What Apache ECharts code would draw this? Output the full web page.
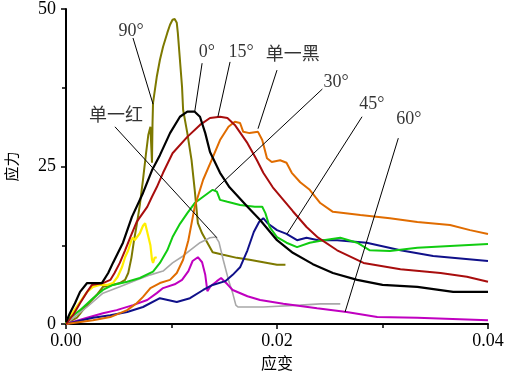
<!DOCTYPE html>
<html>
<head>
<meta charset="utf-8">
<script src="https://cdn.jsdelivr.net/npm/echarts@6/dist/echarts.min.js"></script>
<style>
  html, body { margin: 0; padding: 0; background: #fff; }
  #chart { width: 505px; height: 378px; }
</style>
</head>
<body>
<div id="chart"></div>
<script>
// 各角度试件的应力-应变曲线
const strain0 = [0, 0.00038, 0.00085, 0.00133, 0.0020, 0.0034, 0.0040, 0.00445, 0.0054, 0.00625, 0.0073, 0.00815, 0.0089, 0.00986, 0.0108, 0.0115, 0.0122, 0.0127, 0.0132, 0.01365, 0.0146, 0.0155, 0.0172, 0.0184, 0.0200, 0.0215, 0.0234, 0.0253, 0.0276, 0.0300, 0.0333, 0.0367, 0.0400];
const stress0 = [0.3, 1.75, 3.3, 5.1, 6.5, 6.5, 8.1, 9.7, 12.9, 17.0, 20.8, 24.4, 26.8, 30.3, 32.9, 33.7, 33.7, 32.9, 30.3, 27.3, 24.0, 21.7, 18.6, 16.5, 13.3, 11.3, 9.5, 8.1, 7.0, 6.2, 5.9, 5.1, 5.1];

const strain15 = [0, 0.0001, 0.00066, 0.00133, 0.0020, 0.00246, 0.0035, 0.0042, 0.0046, 0.0051, 0.0056, 0.0061, 0.0067, 0.0077, 0.00815, 0.0086, 0.0092, 0.0101, 0.0115, 0.0127, 0.01365, 0.0146, 0.0153, 0.0160, 0.0172, 0.0181, 0.0187, 0.0196, 0.0206, 0.0215, 0.0228, 0.0239, 0.0257, 0.0282, 0.0317, 0.0355, 0.0380, 0.0400];
const stress15 = [0, 0.3, 1.4, 3.3, 5.1, 6.2, 6.5, 7.0, 8.1, 9.7, 11.7, 13.8, 16.2, 18.6, 20.2, 21.7, 24.0, 27.1, 29.7, 31.6, 32.7, 32.9, 32.7, 31.6, 28.7, 26.0, 24.0, 21.7, 19.7, 17.9, 15.4, 13.7, 11.7, 9.7, 8.7, 8.1, 7.5, 6.7];

// 单一黑
const strainBlack = [0, 0.00256, 0.0042, 0.0058, 0.0067, 0.0073, 0.0080, 0.0089, 0.00986, 0.0105, 0.0111, 0.0116, 0.0122, 0.0130, 0.0138, 0.0146, 0.0154, 0.0160, 0.0165, 0.0168, 0.0174, 0.0182, 0.0186, 0.01905, 0.0195, 0.0203, 0.0209, 0.0214, 0.0222, 0.0231, 0.0241, 0.0253, 0.0279, 0.0307, 0.0333, 0.0364, 0.0383, 0.0400];
const stressBlack = [0, 0.6, 1.1, 2.2, 3.3, 4.3, 5.7, 6.5, 7.0, 8.1, 10.2, 13.3, 18.6, 22.9, 26.0, 29.2, 31.3, 32.1, 31.9, 30.5, 30.3, 30.5, 29.2, 26.3, 25.7, 26.0, 25.6, 24.0, 22.5, 21.3, 19.2, 17.8, 17.3, 16.8, 16.2, 15.7, 14.9, 14.3];

const strain30 = [0, 0.0001, 0.00133, 0.00256, 0.0035, 0.00445, 0.0058, 0.0070, 0.00825, 0.0089, 0.0096, 0.0101, 0.0108, 0.0115, 0.0122, 0.0130, 0.0139, 0.0143, 0.0146, 0.0153, 0.0165, 0.0179, 0.0186, 0.0189, 0.0193, 0.0200, 0.0209, 0.0219, 0.0231, 0.0244, 0.0260, 0.0276, 0.0288, 0.0307, 0.0333, 0.0364, 0.0400];
const stress30 = [0, 0.6, 2.2, 4.1, 5.4, 6.2, 6.7, 7.3, 8.3, 9.7, 11.7, 13.8, 15.9, 17.6, 19.2, 20.2, 21.3, 21.0, 19.7, 19.4, 18.9, 18.6, 18.6, 17.6, 15.4, 13.8, 12.9, 12.2, 12.9, 13.3, 13.7, 12.9, 11.7, 11.6, 12.1, 12.4, 12.7];

const strain45 = [0, 0.00256, 0.0042, 0.0058, 0.0073, 0.0089, 0.0105, 0.01175, 0.0130, 0.0139, 0.0151, 0.0158, 0.0165, 0.0172, 0.0178, 0.0183, 0.0187, 0.0191, 0.0200, 0.0209, 0.0219, 0.0228, 0.0239, 0.0257, 0.0285, 0.0317, 0.0348, 0.0400];
const stress45 = [0, 1.0, 1.4, 1.9, 2.7, 4.1, 3.5, 4.1, 5.4, 6.2, 6.8, 7.8, 9.0, 11.7, 14.6, 16.2, 16.8, 16.0, 14.9, 14.3, 13.3, 13.7, 13.3, 13.3, 12.9, 11.7, 10.8, 10.0];

const strain60 = [0, 0.0020, 0.0035, 0.0048, 0.00635, 0.0077, 0.0086, 0.0092, 0.0103, 0.0110, 0.0116, 0.0120, 0.0125, 0.0129, 0.0132, 0.0134, 0.0137, 0.0143, 0.0147, 0.0153, 0.0158, 0.0172, 0.0184, 0.0206, 0.0238, 0.0266, 0.0295, 0.0333, 0.0400];
const stress60 = [0, 1.0, 1.7, 2.2, 3.0, 3.8, 4.9, 5.7, 6.3, 7.0, 8.4, 10.0, 10.6, 9.8, 7.8, 5.2, 6.0, 6.8, 7.3, 6.3, 5.4, 4.4, 3.8, 3.2, 2.5, 1.9, 1.1, 1.0, 0.6];

// 单一红
const strainRed = [0, 0.0020, 0.0035, 0.0051, 0.0067, 0.0080, 0.0092, 0.0101, 0.0111, 0.01175, 0.0127, 0.01365, 0.0142, 0.0145, 0.0149, 0.0154, 0.0158, 0.0161, 0.0163, 0.0187, 0.0222, 0.0241, 0.0260];
const stressRed = [0, 2.7, 4.9, 5.9, 7.0, 7.8, 8.4, 9.7, 10.8, 11.7, 12.9, 13.7, 13.8, 13.0, 10.2, 7.0, 4.9, 3.0, 2.7, 2.7, 3.0, 3.2, 3.2];

// 黄色短曲线
const strainYellow = [0, 0.0001, 0.00066, 0.00133, 0.0020, 0.00256, 0.0032, 0.0039, 0.00445, 0.0049, 0.0053, 0.0056, 0.0059, 0.0062, 0.00635, 0.0065, 0.0070, 0.0073, 0.0075, 0.0077, 0.0080, 0.00815, 0.00825, 0.0084, 0.0086];
const stressYellow = [0, 0.6, 1.9, 3.5, 5.1, 5.9, 6.2, 6.2, 6.5, 7.5, 9.0, 10.6, 11.7, 13.3, 13.7, 13.3, 14.4, 15.6, 16.0, 14.6, 12.5, 10.2, 9.7, 10.5, 10.6];

const strain90 = [0, 0.0002, 0.00104, 0.0016, 0.0023, 0.0029, 0.0035, 0.00436, 0.0051, 0.0056, 0.0059, 0.0062, 0.00645, 0.0067, 0.0070, 0.0073, 0.0076, 0.0078, 0.0080, 0.0081, 0.00815, 0.0082, 0.00825, 0.0086, 0.0089, 0.0092, 0.0096, 0.00986, 0.0101, 0.0103, 0.0105, 0.0106, 0.0108, 0.0110, 0.0111, 0.0115, 0.0119, 0.0122, 0.0125, 0.0129, 0.0134, 0.0139, 0.0149, 0.0162, 0.0174, 0.0187, 0.0200, 0.0208];
const stress90 = [0, 0.2, 1.0, 2.2, 3.5, 4.6, 5.9, 6.2, 6.5, 7.0, 8.1, 10.5, 13.3, 15.7, 18.9, 22.9, 27.3, 30.0, 31.3, 31.6, 25.6, 31.8, 35.1, 39.2, 41.9, 44.0, 46.2, 47.5, 48.3, 48.4, 47.8, 46.2, 41.9, 37.6, 34.0, 30.3, 26.0, 21.3, 16.0, 14.4, 12.9, 11.4, 11.0, 10.5, 10.2, 9.8, 9.4, 9.4];

// 标注: 文字位置 与 引线(起点 -> 终点)
const labelNames = ['90°', '0°', '15°', '单一黑', '30°', '45°', '60°', '单一红'];
const labelPos = [[0.00616, 46.5], [0.01336, 43.2], [0.0166, 43.2], [0.0215, 42.7], [0.0256, 38.3], [0.0290, 34.9], [0.0325, 32.5], [0.00474, 32.9]];
const leaderFrom = [[0.00635, 45.4], [0.0129, 41.4], [0.01555, 41.6], [0.0200, 40.3], [0.0243, 37.3], [0.02806, 32.9], [0.0315, 29.5], [0.00464, 31.3]];
const leaderTo = [[0.00825, 34.9], [0.0122, 33.7], [0.0144, 32.9], [0.0182, 31.0], [0.0141, 21.3], [0.02095, 14.3], [0.02645, 1.9], [0.0143, 13.7]];

const zip = (xs, ys) => xs.map((x, i) => [x, ys[i]]);

const curves = [
  { x: strain90, y: stress90, color: '#7d7900', width: 2 },
  { x: strainYellow, y: stressYellow, color: '#ffee00', width: 2.2 },
  { x: strainRed, y: stressRed, color: '#a8a8a8', width: 1.6 },
  { x: strain60, y: stress60, color: '#c000c0', width: 2 },
  { x: strain45, y: stress45, color: '#10108a', width: 2 },
  { x: strain30, y: stress30, color: '#11cc11', width: 2 },
  { x: strainBlack, y: stressBlack, color: '#e06c00', width: 2 },
  { x: strain15, y: stress15, color: '#a80d0d', width: 2 },
  { x: strain0, y: stress0, color: '#000000', width: 2.2 }
];

const series = curves.map(c => ({
  type: 'line',
  data: zip(c.x, c.y),
  showSymbol: false,
  smooth: false,
  lineStyle: { color: c.color, width: c.width },
  z: 3
}));

series.push({
  type: 'line',
  data: [],
  markLine: {
    silent: true,
    symbol: 'none',
    label: { show: false },
    lineStyle: { color: '#000', width: 1, type: 'solid' },
    data: leaderFrom.map((p, i) => [{ coord: p }, { coord: leaderTo[i] }])
  },
  z: 4
});

series.push({
  type: 'scatter',
  data: labelNames.map((n, i) => ({ name: n, value: labelPos[i] })),
  symbolSize: 0,
  label: {
    show: true,
    position: 'inside',
    formatter: p => p.name,
    color: '#000',
    fontSize: 18,
    fontFamily: '"Liberation Serif", "Noto Sans CJK SC", serif'
  },
  z: 5
});

const chart = echarts.init(document.querySelector('#chart'));
const option = {
  animation: false,
  backgroundColor: '#fff',
  grid: { left: 66, right: 17, top: 9, bottom: 54, outerBoundsMode: 'none', containLabel: false },
  xAxis: {
    type: 'value',
    min: 0,
    max: 0.04,
    interval: 0.02,
    name: '应变',
    nameLocation: 'middle',
    nameGap: 25,
    nameTextStyle: { fontSize: 16, color: '#000', fontFamily: '"Noto Sans CJK SC", sans-serif' },
    axisLine: { lineStyle: { color: '#000', width: 2 } },
    axisTick: { show: true, length: 5, lineStyle: { color: '#000', width: 1.5 } },
    minorTick: { show: true, splitNumber: 2, length: 4, lineStyle: { color: '#000', width: 1.5 } },
    splitLine: { show: false },
    axisLabel: {
      formatter: v => v.toFixed(2),
      color: '#000',
      fontSize: 18,
      margin: 8,
      fontFamily: '"Liberation Serif", serif'
    }
  },
  yAxis: {
    type: 'value',
    min: 0,
    max: 50,
    interval: 25,
    name: '应力',
    nameLocation: 'middle',
    nameGap: 47,
    nameRotate: 90,
    nameTextStyle: { fontSize: 15, color: '#000', fontFamily: '"Noto Sans CJK SC", sans-serif' },
    axisLine: { show: true, lineStyle: { color: '#000', width: 2 } },
    axisTick: { show: true, length: 5, lineStyle: { color: '#000', width: 1.5 } },
    minorTick: { show: true, splitNumber: 2, length: 4, lineStyle: { color: '#000', width: 1.5 } },
    splitLine: { show: false },
    axisLabel: {
      color: '#000',
      fontSize: 18,
      margin: 10,
      fontFamily: '"Liberation Serif", serif'
    }
  },
  series
};
chart.setOption(option);
</script>
</body>
</html>
